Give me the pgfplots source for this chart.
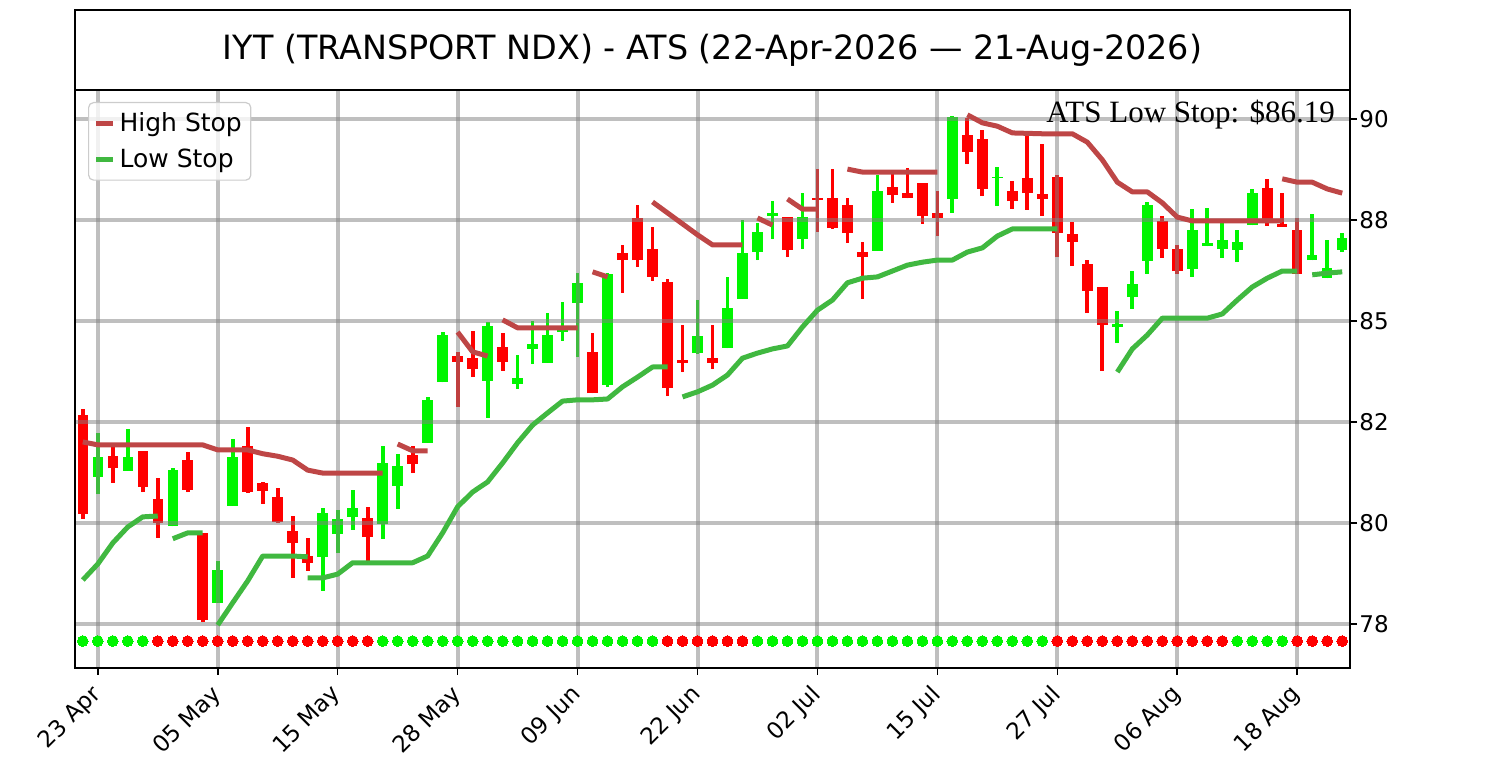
\documentclass[border=0pt]{standalone}
\usepackage{pgfplots}
\pgfplotsset{compat=1.18}
\usepackage{pgfplotstable}
\usepackage{fontspec}
\setmainfont{DejaVu Sans}
\newfontfamily\timesfont{Liberation Serif}
\definecolor{cgreen}{RGB}{0,245,0}
\definecolor{cred}{RGB}{255,0,0}
\definecolor{hstop}{RGB}{190,70,70}
\definecolor{lstop}{RGB}{64,184,64}

\pgfplotstableread{
i o h l c
1 81.50 82.54 81.09 81.97
3 81.64 82.64 81.64 81.97
6 80.33 81.71 80.33 81.66
9 78.51 79.50 78.51 79.29
10 80.81 82.40 80.81 81.97
16 79.60 80.76 78.79 80.64
17 80.14 80.71 79.69 80.50
18 80.55 81.19 80.24 80.76
20 80.38 82.23 80.03 81.83
21 81.28 82.04 80.74 81.76
23 82.31 83.40 82.31 83.33
24 83.75 84.94 83.75 84.87
27 83.78 85.18 82.90 85.08
29 83.71 84.40 83.59 83.85
30 84.54 85.20 84.18 84.66
31 84.21 85.39 84.21 84.87
32 84.94 85.65 84.73 84.99
33 85.63 86.34 84.35 86.11
35 83.68 86.34 83.64 86.32
41 84.44 85.70 84.42 84.85
43 84.56 86.25 84.56 85.51
44 85.73 87.60 85.73 86.82
45 86.84 87.53 86.65 87.32
46 87.70 88.05 87.15 87.77
48 87.15 88.24 86.91 87.67
53 86.87 88.67 86.87 88.29
58 88.10 90.07 87.77 90.05
61 88.60 88.86 87.93 88.62
69 85.06 85.44 84.68 85.13
70 85.77 86.39 85.49 86.08
71 86.63 88.03 86.32 87.96
74 86.44 87.86 86.25 87.36
75 86.98 87.89 86.98 87.06
76 86.91 87.60 86.70 87.13
77 86.89 87.36 86.60 87.08
78 87.48 88.34 87.48 88.24
82 86.65 87.74 86.65 86.77
83 86.22 87.13 86.22 86.46
84 86.89 87.29 86.84 87.17
}\greentab

\pgfplotstableread{
i o h l c
0 82.97 83.11 80.50 80.62
2 82.00 82.26 81.36 81.71
4 82.12 82.12 81.14 81.26
5 80.98 81.47 80.05 80.41
7 81.90 82.09 81.14 81.19
8 80.17 80.17 78.05 78.10
11 82.23 82.69 81.12 81.14
12 81.36 81.38 80.86 81.17
13 81.02 81.24 80.41 80.43
14 80.22 80.57 79.10 79.93
15 79.62 80.05 79.27 79.46
19 80.52 80.79 79.46 80.07
22 82.02 82.23 81.59 81.81
25 84.37 84.47 83.16 84.23
26 84.32 84.97 83.87 84.06
28 84.59 84.92 84.02 84.23
34 84.47 84.92 83.49 83.49
36 86.82 87.01 85.87 86.65
37 87.65 87.96 86.49 86.65
38 86.91 87.44 86.15 86.25
39 86.13 86.20 83.42 83.61
40 84.28 85.11 83.99 84.21
42 84.32 85.11 84.06 84.21
47 87.67 87.67 86.72 86.89
49 88.12 88.81 87.32 88.08
50 88.12 88.81 87.39 87.41
51 87.96 88.12 87.06 87.29
52 86.84 87.08 85.73 86.72
54 88.39 88.77 88.01 88.20
55 88.24 88.84 88.12 88.12
56 88.48 88.48 87.51 87.70
57 87.77 88.29 87.22 87.65
59 89.62 90.02 88.93 89.22
60 89.53 89.74 88.17 88.34
62 88.29 88.53 87.86 88.05
63 88.60 89.60 87.84 88.24
64 88.22 89.41 87.70 88.10
65 88.62 88.67 86.72 87.29
66 87.27 87.55 86.51 87.08
67 86.56 86.65 85.39 85.92
68 86.01 86.01 84.02 85.11
72 87.58 87.70 86.70 86.91
73 86.91 87.01 86.32 86.39
79 88.36 88.58 87.46 87.53
80 87.51 88.24 87.44 87.44
81 87.36 87.65 86.32 86.32
}\redtab

\begin{document}
\begin{tikzpicture}
\path (0,0) rectangle (750pt,375pt);
\begin{axis}[
  at={(37.5pt,41pt)}, anchor=south west,
  scale only axis, width=637.5pt, height=289pt,
  set layers,
  xmin=-0.52, xmax=84.52, ymin=76.96, ymax=90.69,
  xtick={1,9,17,25,33,41,49,57,65,73,81},
  xticklabels={23 Apr,05 May,15 May,28 May,09 Jun,22 Jun,02 Jul,15 Jul,27 Jul,06 Aug,18 Aug},
  ytick={78,80.4,82.8,85.2,87.6,90},
  yticklabels={78,80,82,85,88,90},
  xtick pos=left, ytick pos=right, yticklabel pos=right,
  tick align=outside, major tick length=3.5pt,
  tick style={black, line width=0.8pt},
  ticklabel style={font=\fontsize{11.5}{13}\selectfont},
  xticklabel style={xshift=-4pt, yshift=-2.5pt, rotate=45, anchor=north east, inner sep=1pt},
  yticklabel style={anchor=west, inner sep=1pt},
  grid=major, major grid style={draw=gray, opacity=0.5, line width=2pt},
  axis line style={line width=1pt},
  legend cell align=left,
  legend image code/.code={\draw[#1] (0pt,0pt) -- (8.5pt,0pt);},
  legend style={at={(0,1)}, anchor=north west, xshift=6.5pt, yshift=-6pt,
    draw=black!20, line width=0.6pt, rounded corners=2.5pt, fill=white, fill opacity=0.8, text opacity=1,
    font=\fontsize{12.5}{15}\selectfont, inner xsep=2.5pt, inner ysep=3pt, row sep=3pt,
    every odd column/.append style={column sep=-2.5pt}},
  candle/.style={forget plot, only marks, mark size=0pt, mark options={draw=none, fill=none}, on layer=axis background,
    error bars/y dir=plus, error bars/y explicit, error bars/error mark=none},
]
% wicks
\addplot[candle, error bars/error bar style={line width=1.9pt, draw=cgreen}]
  table[x=i, y=l, y error plus expr=\thisrow{h}-\thisrow{l}] {\greentab};
\addplot[candle, error bars/error bar style={line width=1.9pt, draw=cred}]
  table[x=i, y=l, y error plus expr=\thisrow{h}-\thisrow{l}] {\redtab};
% bodies
\addplot[candle, error bars/error bar style={line width=5.25pt, draw=cgreen}]
  table[x=i, y=o, y error plus expr=\thisrow{c}-\thisrow{o}] {\greentab};
\addplot[candle, error bars/error bar style={line width=5.25pt, draw=cred}]
  table[x=i, y=c, y error plus expr=\thisrow{o}-\thisrow{c}] {\redtab};

% high stop segments
\pgfplotsset{hs/.style={forget plot, hstop, line width=2.5pt, line join=round}}
\pgfplotsset{ls/.style={forget plot, lstop, line width=2.5pt, line join=round}}
\addplot[hs] coordinates {(0,82.33) (1,82.26) (2,82.26) (3,82.26) (4,82.26) (5,82.26) (6,82.26) (7,82.26) (8,82.26) (9,82.14) (10,82.14) (11,82.14) (12,82.05) (13,81.99) (14,81.90) (15,81.66) (16,81.59) (17,81.59) (18,81.59) (19,81.59) (20,81.59)};
\addplot[hs] coordinates {(21,82.28) (22,82.12) (23,82.12)};
\addplot[hs] coordinates {(25,84.94) (26,84.47) (27,84.37)};
\addplot[hs] coordinates {(28,85.23) (29,85.04) (30,85.04) (31,85.04) (32,85.04) (33,85.04)};
\addplot[hs] coordinates {(34,86.37) (35,86.25)};
\addplot[hs] coordinates {(38,88.03) (39,87.77) (40,87.51) (41,87.25) (42,87.01) (43,87.01) (44,87.01)};
\addplot[hs] coordinates {(45,87.65) (46,87.48)};
\addplot[hs] coordinates {(47,88.10) (48,87.86) (49,87.86)};
\addplot[hs] coordinates {(51,88.81) (52,88.74) (53,88.74) (54,88.74) (55,88.74) (56,88.74) (57,88.74)};
\addplot[hs] coordinates {(59,90.10) (60,89.91) (61,89.83) (62,89.67) (63,89.66) (64,89.65) (65,89.65) (66,89.65) (67,89.45) (68,89.03) (69,88.50) (70,88.27) (71,88.27) (72,88.01) (73,87.67) (74,87.58) (75,87.58) (76,87.58) (77,87.58) (78,87.58) (79,87.58) (80,87.58)};
\addplot[hs] coordinates {(80,88.58) (81,88.50) (82,88.50) (83,88.34) (84,88.24)};
% low stop segments
\addplot[ls] coordinates {(0,79.05) (1,79.43) (2,79.93) (3,80.31) (4,80.55) (5,80.57)};
\addplot[ls] coordinates {(6,80.03) (7,80.17) (8,80.17)};
\addplot[ls] coordinates {(9,77.98) (10,78.51) (11,79.03) (12,79.62) (13,79.62) (14,79.62) (15,79.60)};
\addplot[ls] coordinates {(15,79.10) (16,79.10) (17,79.19) (18,79.46) (19,79.46) (20,79.46) (21,79.46) (22,79.46) (23,79.62) (24,80.17) (25,80.79) (26,81.14) (27,81.38) (28,81.83) (29,82.31) (30,82.73) (31,83.02) (32,83.30) (33,83.33) (34,83.33) (35,83.35) (36,83.64) (37,83.87) (38,84.11) (39,84.11)};
\addplot[ls] coordinates {(40,83.40) (41,83.52) (42,83.68) (43,83.92) (44,84.32) (45,84.44) (46,84.54) (47,84.61) (48,85.06) (49,85.46) (50,85.70) (51,86.11) (52,86.22) (53,86.25) (54,86.39) (55,86.53) (56,86.60) (57,86.65) (58,86.65) (59,86.84) (60,86.94) (61,87.22) (62,87.39) (63,87.39) (64,87.39) (65,87.39)};
\addplot[ls] coordinates {(69,83.99) (70,84.54) (71,84.87) (72,85.27) (73,85.27) (74,85.27) (75,85.27) (76,85.37) (77,85.70) (78,86.01) (79,86.22) (80,86.39) (81,86.39)};
\addplot[ls] coordinates {(82,86.30) (83,86.34) (84,86.37)};

% trend dots
\addplot[forget plot, only marks, cgreen, mark=*, mark size=2.7pt, mark options={draw=cgreen, fill=cgreen, line width=0pt}] coordinates {
(0,77.6) (1,77.6) (2,77.6) (3,77.6) (4,77.6)
(20,77.6) (21,77.6) (22,77.6) (23,77.6) (24,77.6) (25,77.6) (26,77.6) (27,77.6) (28,77.6) (29,77.6) (30,77.6) (31,77.6) (32,77.6) (33,77.6) (34,77.6) (35,77.6) (36,77.6) (37,77.6) (38,77.6)
(45,77.6) (46,77.6) (47,77.6) (48,77.6) (49,77.6) (50,77.6) (51,77.6) (52,77.6) (53,77.6) (54,77.6) (55,77.6) (56,77.6) (57,77.6) (58,77.6) (59,77.6) (60,77.6) (61,77.6) (62,77.6) (63,77.6) (64,77.6)
(77,77.6) (78,77.6) (79,77.6) (80,77.6)};
\addplot[forget plot, only marks, cred, mark=*, mark size=2.7pt, mark options={draw=cred, fill=cred, line width=0pt}] coordinates {
(5,77.6) (6,77.6) (7,77.6) (8,77.6) (9,77.6) (10,77.6) (11,77.6) (12,77.6) (13,77.6) (14,77.6) (15,77.6) (16,77.6) (17,77.6) (18,77.6) (19,77.6)
(39,77.6) (40,77.6) (41,77.6) (42,77.6) (43,77.6) (44,77.6)
(65,77.6) (66,77.6) (67,77.6) (68,77.6) (69,77.6) (70,77.6) (71,77.6) (72,77.6) (73,77.6) (74,77.6) (75,77.6) (76,77.6)
(81,77.6) (82,77.6) (83,77.6) (84,77.6)};

\addlegendimage{hstop, line width=2.5pt}
\addlegendentry{High Stop}
\addlegendimage{lstop, line width=2.5pt}
\addlegendentry{Low Stop}

\node[anchor=north east, inner sep=0pt, font=\timesfont\fontsize{15.5}{18}\selectfont]
  at (rel axis cs:0.9885,0.984) {ATS Low Stop: \$86.19};
\end{axis}
\draw[line width=1pt] (37.5pt,330pt) rectangle (675pt,370pt);
\node[font=\fontsize{16.7}{20}\selectfont] at (356.25pt,350pt) {IYT (TRANSPORT NDX) - ATS (22-Apr-2026 — 21-Aug-2026)};
\end{tikzpicture}
\end{document}
